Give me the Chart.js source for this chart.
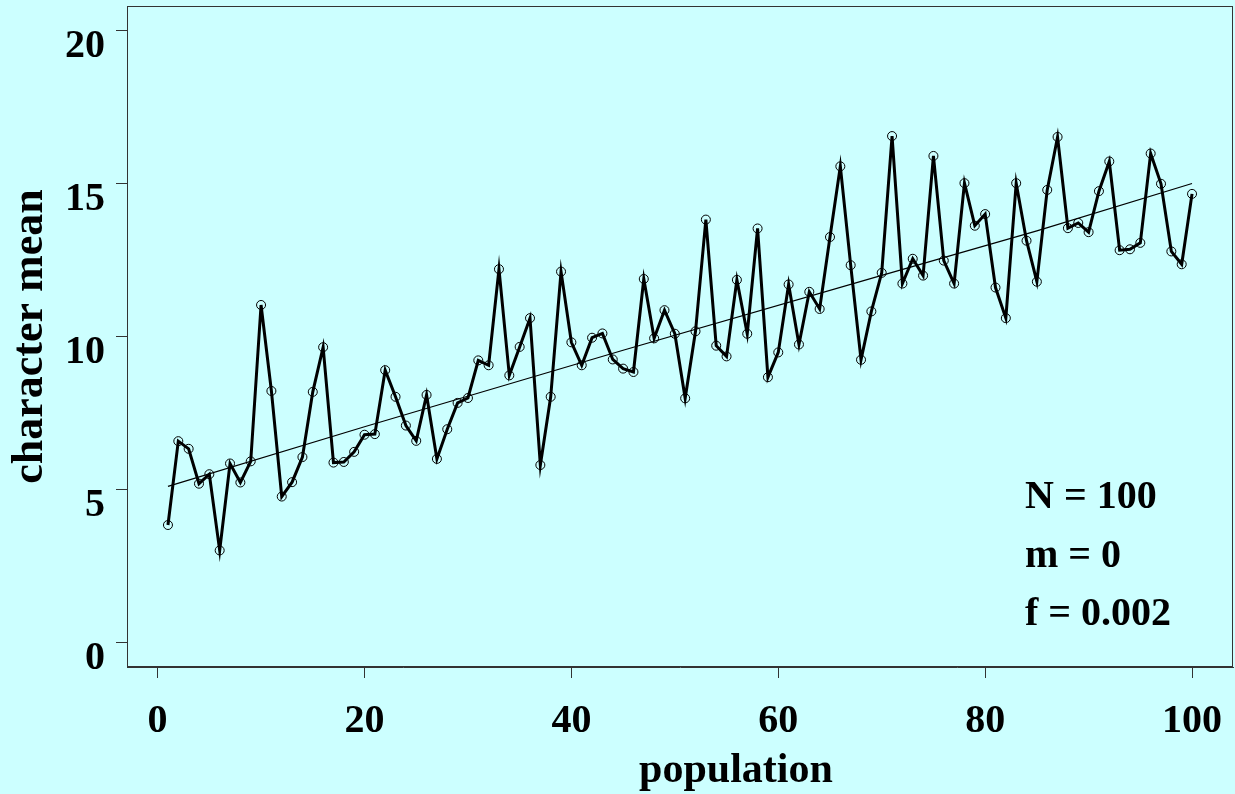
<!DOCTYPE html>
<html>
<head>
<meta charset="utf-8">
<script src="https://cdn.jsdelivr.net/npm/chart.js@4.4.1/dist/chart.umd.min.js"></script>
<style>
  body { margin: 0; background: #ccffff; }
  #chart { display: block; }
</style>
</head>
<body>
<canvas id="chart" width="1235" height="794"></canvas>
<script>
// population index (x)
const population = [
    1, 2, 3, 4, 5, 6, 7, 8, 9, 10, 11, 12, 13, 14, 15, 16, 17, 18, 19, 20,
    21, 22, 23, 24, 25, 26, 27, 28, 29, 30, 31, 32, 33, 34, 35, 36, 37, 38, 39, 40,
    41, 42, 43, 44, 45, 46, 47, 48, 49, 50, 51, 52, 53, 54, 55, 56, 57, 58, 59, 60,
    61, 62, 63, 64, 65, 66, 67, 68, 69, 70, 71, 72, 73, 74, 75, 76, 77, 78, 79, 80,
    81, 82, 83, 84, 85, 86, 87, 88, 89, 90, 91, 92, 93, 94, 95, 96, 97, 98, 99, 100
];

// character mean per population
const charMean = [
    3.84, 6.58, 6.33, 5.19, 5.50, 3.01, 5.85, 5.23, 5.92, 11.03,
    8.22, 4.77, 5.24, 6.06, 8.19, 9.65, 5.88, 5.90, 6.23, 6.79,
    6.81, 8.90, 8.03, 7.09, 6.59, 8.09, 6.00, 6.97, 7.83, 7.99,
    9.22, 9.06, 12.20, 8.73, 9.66, 10.60, 5.80, 8.03, 12.12, 9.81,
    9.06, 9.96, 10.10, 9.25, 8.95, 8.84, 11.88, 9.94, 10.86, 10.09,
    7.98, 10.17, 13.82, 9.70, 9.35, 11.85, 10.09, 13.53, 8.67, 9.48,
    11.70, 9.74, 11.46, 10.90, 13.25, 15.56, 12.33, 9.24, 10.82, 12.08,
    16.55, 11.73, 12.54, 11.99, 15.90, 12.48, 11.73, 15.01, 13.62, 14.00,
    11.60, 10.60, 15.01, 13.13, 11.79, 14.79, 16.52, 13.54, 13.71, 13.41,
    14.75, 15.72, 12.82, 12.85, 13.06, 15.98, 14.99, 12.78, 12.36, 14.66
];

// fitted trend line
const trendX = [1, 20, 45, 69, 85, 100];
const trendY = [5.1, 7.05, 9.55, 11.9, 13.45, 15.0];

const xTicks = [0, 20, 40, 60, 80, 100];
const yTicks = [0, 5, 10, 15, 20];

const notes = ["N = 100", "m = 0", "f = 0.002"];

const serif = "'Liberation Serif', 'Times New Roman', serif";

const boxPlugin = {
    id: "box",
    afterDraw(chart) {
        const ctx = chart.ctx;
        const a = chart.chartArea;
        ctx.save();
        ctx.strokeStyle = "#333";
        ctx.lineWidth = 1;
        ctx.strokeRect(Math.round(a.left) + 0.5, Math.round(a.top) + 0.5,
            Math.round(a.right - a.left) - 1, Math.round(a.bottom - a.top) - 1);

        ctx.fillStyle = "#000";
        ctx.font = "bold 42px " + serif;
        ctx.textAlign = "center";
        ctx.textBaseline = "alphabetic";
        ctx.fillText("population", 736, 782);

        ctx.font = "bold 40px " + serif;
        ctx.textAlign = "left";
        notes.forEach((t, i) => {
            ctx.fillText(t, 1025, 508 + i * 58.5);
        });
        ctx.restore();
    }
};

new Chart(document.querySelector("#chart"), {
    type: "line",
    data: {
        datasets: [
            {
                label: "trend",
                data: trendX.map((x, i) => ({ x: x, y: trendY[i] })),
                borderColor: "#000",
                borderWidth: 1.2,
                pointRadius: 0,
                tension: 0
            },
            {
                label: "character mean",
                data: population.map((x, i) => ({ x: x, y: charMean[i] })),
                borderColor: "#000",
                borderWidth: 3,
                borderJoinStyle: "miter",
                pointRadius: 4.5,
                pointBorderWidth: 1,
                pointBorderColor: "#000",
                pointBackgroundColor: "rgba(0,0,0,0)",
                tension: 0
            }
        ]
    },
    options: {
        responsive: false,
        animation: false,
        events: [],
        layout: {
            autoPadding: false,
            padding: { top: 6, right: 2, left: 0, bottom: 0 }
        },
        plugins: {
            legend: { display: false },
            tooltip: { enabled: false }
        },
        scales: {
            x: {
                type: "linear",
                min: -2.96,
                max: 103.96,
                afterBuildTicks: (s) => { s.ticks = xTicks.map(v => ({ value: v })); },
                afterFit: (s) => {
                    s.height = 127;
                    s.paddingLeft = 0;
                    s.paddingRight = 0;
                },
                grid: { drawOnChartArea: false, tickLength: 11, color: "#333" },
                border: { color: "#333" },
                ticks: {
                    color: "#000",
                    font: { family: serif, size: 40, weight: "bold" },
                    padding: 20,
                    maxRotation: 0,
                    autoSkip: false
                }
            },
            y: {
                min: -0.8,
                max: 20.8,
                afterBuildTicks: (s) => { s.ticks = yTicks.map(v => ({ value: v })); },
                afterFit: (s) => {
                    s.width = 127;
                    s.paddingTop = 0;
                    s.paddingBottom = 0;
                },
                grid: { drawOnChartArea: false, tickLength: 11, color: "#333" },
                border: { color: "#333" },
                ticks: {
                    color: "#000",
                    font: { family: serif, size: 40, weight: "bold" },
                    padding: 11,
                    labelOffset: 16,
                    autoSkip: false
                },
                title: {
                    display: true,
                    text: "character mean",
                    color: "#000",
                    font: { family: serif, size: 44, weight: "bold" },
                    padding: { top: 4, bottom: 0 }
                }
            }
        }
    },
    plugins: [boxPlugin]
});
</script>
</body>
</html>
